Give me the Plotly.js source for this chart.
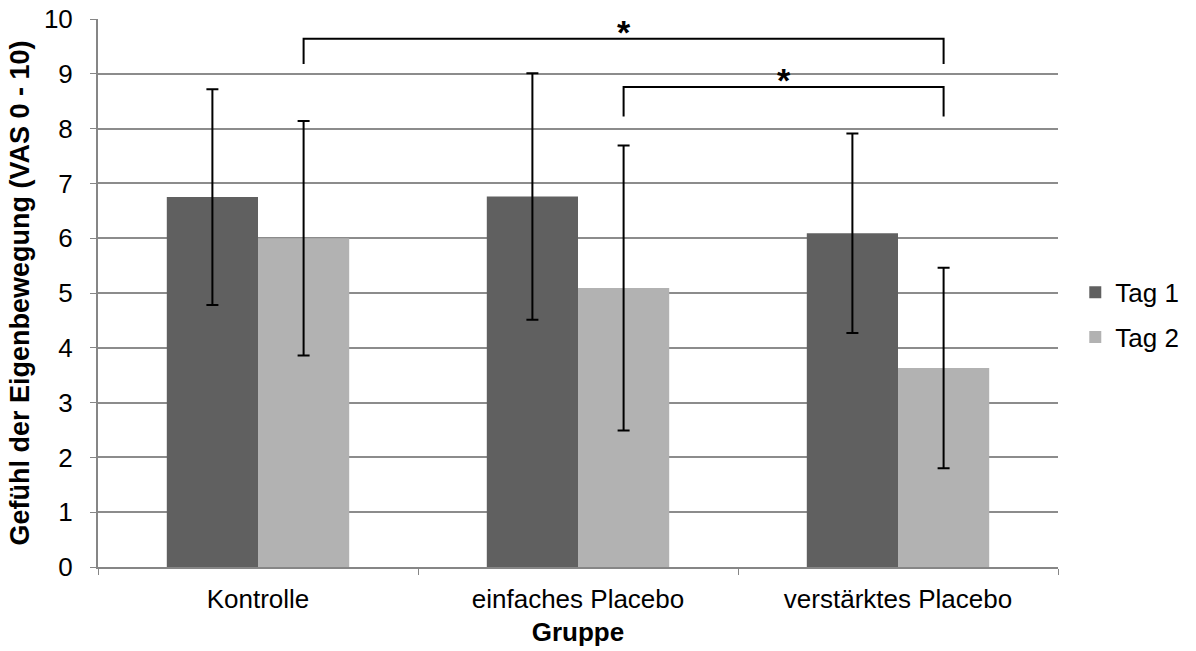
<!DOCTYPE html>
<html>
<head>
<meta charset="utf-8">
<script src="https://cdn.plot.ly/plotly-3.0.1.min.js"></script>
<style>html,body{margin:0;padding:0;background:#fff;}#chart{width:1196px;height:651px;}</style>
</head>
<body>
<div id="chart"></div>
<script>
const categories = ["Kontrolle", "einfaches Placebo", "verstärktes Placebo"];
const seriesNames = ["Tag 1", "Tag 2"];
const tag1 = [6.75, 6.76, 6.09];
const tag1Err = [1.97, 2.25, 1.82];
const tag2 = [6.00, 5.09, 3.63];
const tag2Err = [2.14, 2.60, 1.83];
const yTicks = [0, 1, 2, 3, 4, 5, 6, 7, 8, 9, 10];
// significance brackets: [from category index, to category index, bottom y, top y]
const brackets = [[0, 2, 9.18, 9.64], [1, 2, 8.22, 8.76]];
const sigLabel = "*";

const FONT = "Liberation Sans, Arial, sans-serif";
const FS = 26;
const bargap = 0.43;
const off = (1 - bargap) / 4; // center offset of Tag 2 bar

const traces = [
  {type: "bar", name: seriesNames[0], x: categories, y: tag1, legendgroup: "a",
   marker: {color: "#606060"},
   error_y: {type: "data", array: tag1Err, visible: true, color: "#000", thickness: 2, width: 6}},
  {type: "bar", name: seriesNames[1], x: categories, y: tag2, legendgroup: "b",
   marker: {color: "#b2b2b2"},
   error_y: {type: "data", array: tag2Err, visible: true, color: "#000", thickness: 2, width: 6}}
];

const shapes = [];
const annotations = [];
brackets.forEach(b => {
  const x0 = b[0] + off, x1 = b[1] + off;
  shapes.push({type: "path", xref: "x", yref: "y",
    path: `M ${x0} ${b[2]} L ${x0} ${b[3]} L ${x1} ${b[3]} L ${x1} ${b[2]}`,
    line: {color: "#000", width: 2}});
  annotations.push({xref: "x", yref: "y", x: (x0 + x1) / 2, y: b[3], text: "<b>" + sigLabel + "</b>",
    showarrow: false, yanchor: "bottom", yshift: -14, font: {family: FONT, size: 34, color: "#000"}});
});

const layout = {
  width: 1196, height: 651,
  margin: {l: 98, r: 138, t: 19, b: 84},
  paper_bgcolor: "#fff", plot_bgcolor: "#fff",
  barmode: "group", bargap: bargap, bargroupgap: 0,
  font: {family: FONT, size: FS, color: "#000"},
  xaxis: {type: "category", tickson: "boundaries", ticks: "outside", ticklen: 6, tickcolor: "#868686",
    showline: true, linecolor: "#868686", linewidth: 2, showgrid: false,
    tickfont: {family: FONT, size: FS}, ticklabelstandoff: 8,
    title: {text: "<b>Gruppe</b>", font: {family: FONT, size: FS}, standoff: 10}},
  yaxis: {range: [0, 10], tickvals: yTicks, ticks: "outside", ticklen: 6, tickcolor: "#868686",
    showline: true, linecolor: "#868686", linewidth: 2,
    showgrid: true, gridcolor: "#8c8c8c", gridwidth: 2, zeroline: false,
    tickfont: {family: FONT, size: FS}, ticklabelstandoff: 12,
    title: {text: "<b>Gefühl der Eigenbewegung (VAS 0 - 10)</b>", font: {family: FONT, size: 27}, standoff: 6}},
  legend: {x: 1.018, y: 0.46, xanchor: "left", yanchor: "middle", font: {family: FONT, size: FS},
    traceorder: "grouped", tracegroupgap: 8, itemwidth: 30, bgcolor: "rgba(0,0,0,0)"},
  shapes: shapes,
  annotations: annotations,
  showlegend: true
};

Plotly.newPlot("chart", traces, layout, {displayModeBar: false, staticPlot: true});
</script>
</body>
</html>
